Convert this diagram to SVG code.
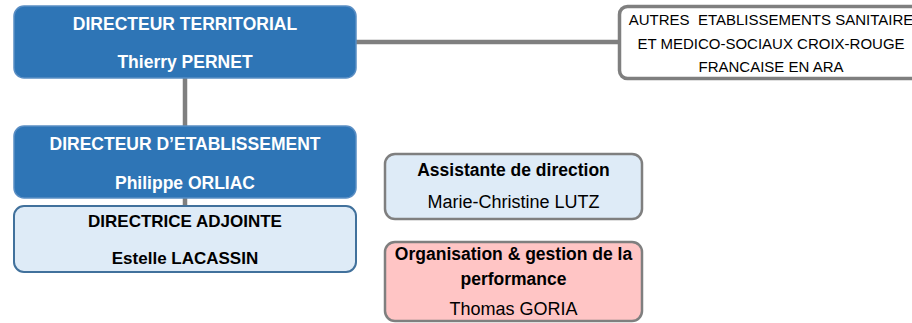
<svg xmlns="http://www.w3.org/2000/svg" width="912" height="323" viewBox="0 0 912 323">
  <style>
    .t { font-family: "Liberation Sans", Arial, sans-serif; text-anchor: middle; }
    .b { font-weight: bold; }
    .w { fill: #ffffff; }
    .k { fill: #000000; }
    .dark { fill: #2E75B6; stroke: #5A8EC4; stroke-width: 1.5; }
    .light { fill: #DEEBF7; stroke: #41719C; stroke-width: 2; }
    .grayb { fill: #DEEBF7; stroke: #7F7F7F; stroke-width: 2.5; }
    .pink { fill: #FFC5C5; stroke: #7F7F7F; stroke-width: 2.5; }
    .white { fill: #FFFFFF; stroke: #7F7F7F; stroke-width: 3.5; }
    .conn { stroke: #7F7F7F; stroke-width: 4.5; fill: none; }
  </style>
  <rect width="912" height="323" fill="#ffffff"/>
  <g id="connectors">
    <line class="conn" x1="356" y1="42" x2="620" y2="42"/>
    <line class="conn" x1="185" y1="78" x2="185" y2="126"/>
    <line class="conn" x1="185" y1="198" x2="185" y2="206"/>
  </g>
  <g id="directeur-territorial">
    <rect class="dark" x="14" y="6" width="342" height="72" rx="10"/>
    <text class="t b w" x="185" y="29.5" font-size="17.5">DIRECTEUR TERRITORIAL</text>
    <text class="t b w" x="185" y="68" font-size="17.5">Thierry PERNET</text>
  </g>
  <g id="autres-etablissements">
    <rect class="white" x="619.5" y="6.5" width="303" height="72" rx="8"/>
    <text class="t k" x="771" y="25" font-size="15" xml:space="preserve">AUTRES  ETABLISSEMENTS SANITAIRE</text>
    <text class="t k" x="771" y="48.5" font-size="15">ET MEDICO-SOCIAUX CROIX-ROUGE</text>
    <text class="t k" x="771" y="72" font-size="15">FRANCAISE EN ARA</text>
  </g>
  <g id="directeur-etablissement">
    <rect class="dark" x="14" y="126" width="342" height="72" rx="10"/>
    <text class="t b w" x="185" y="150" font-size="17.5">DIRECTEUR D’ETABLISSEMENT</text>
    <text class="t b w" x="185" y="189" font-size="17.5">Philippe ORLIAC</text>
  </g>
  <g id="directrice-adjointe">
    <rect class="light" x="14" y="206" width="342" height="66" rx="10"/>
    <text class="t b k" x="185" y="227" font-size="17">DIRECTRICE ADJOINTE</text>
    <text class="t b k" x="185" y="264" font-size="17">Estelle LACASSIN</text>
  </g>
  <g id="assistante-direction">
    <rect class="grayb" x="385" y="154" width="257" height="65" rx="10"/>
    <text class="t b k" x="513.5" y="176" font-size="17.5">Assistante de direction</text>
    <text class="t k" x="513.5" y="208" font-size="18">Marie-Christine LUTZ</text>
  </g>
  <g id="organisation-performance">
    <rect class="pink" x="385" y="242" width="257" height="79" rx="10"/>
    <text class="t b k" x="513.5" y="260" font-size="17.5">Organisation &amp; gestion de la</text>
    <text class="t b k" x="513.5" y="285" font-size="17.5">performance</text>
    <text class="t k" x="513.5" y="315" font-size="18">Thomas GORIA</text>
  </g>
</svg>
